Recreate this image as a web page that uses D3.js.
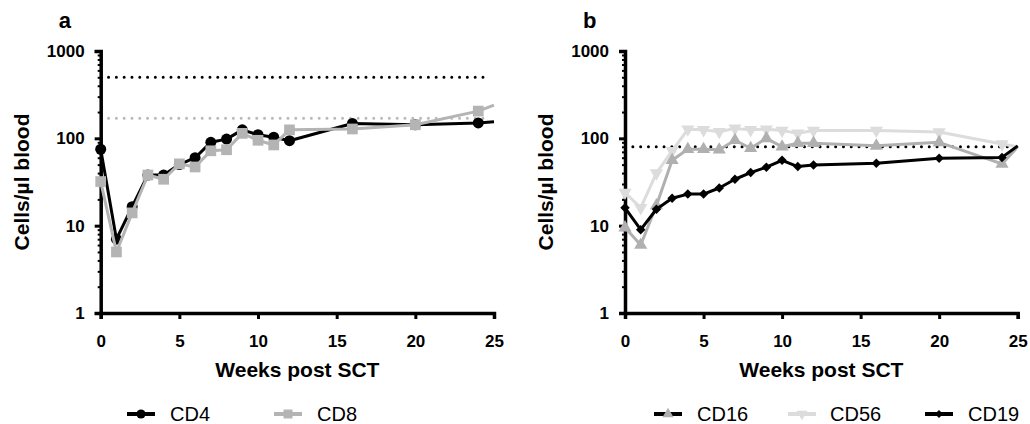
<!DOCTYPE html>
<html><head><meta charset="utf-8">
<script src="https://cdn.jsdelivr.net/npm/d3@7"></script>
<style>body{margin:0;background:#fff} svg{display:block;font-family:Arial,"Liberation Sans",sans-serif}</style>
</head><body><svg width="1030" height="424"></svg>
<script>
// ---- data ----
const weeksA = [0,1,2,3,4,5,6,7,8,9,10,11,12,16,20,24,25];
const cd4 = [75,7,16.5,38,38,50,60,90,98,125,110,103,94,148,143,150,155];
const cd8 = [32,5,14,38,34,51,47,72,74,114,95,84,125,128,143,205,240];
const refA = [500,170];
const weeksB = [0,1,2,3,4,5,6,7,8,9,10,11,12,16,20,24,25];
const cd16 = [9.5,6,17,56,75,75,74,95,77,100,80,88,88,82,90,51,80];
const cd56 = [24,16,40,72,127,125,119,130,125,127,123,114,123,123,118,86,80];
const cd19 = [16,9,15.4,20.6,23,23,27,34,40.5,46.7,56,47.5,49.5,52,59,60.5,82];
const refB = [80];
const xTicks = [0,5,10,15,20,25];
const yTicks = [1,10,100,1000];
const markerMaxWeek = 24;

const svg = d3.select("svg");
const Y0 = 313, Y1 = 51;

function panel(opts){
  const g = svg.append("g");
  const x = d3.scaleLinear().domain([0,25]).range([opts.x0, opts.x1]);
  const y = d3.scaleLog().domain([1,1000]).range([Y0, Y1]);
  const minors = [];
  for (let d=1; d<1000; d*=10) for (let k=2;k<=9;k++) minors.push(d*k);
  const gm = g.append("g").attr("transform",`translate(${opts.x0},0)`)
    .call(d3.axisLeft(y).tickValues(minors).tickSize(3).tickFormat(""));
  gm.select(".domain").remove();
  gm.selectAll("line").attr("stroke","#000").attr("stroke-width",2);
  const gy = g.append("g").attr("transform",`translate(${opts.x0},0)`)
    .call(d3.axisLeft(y).tickValues(yTicks).tickSize(6).tickPadding(10).tickFormat(d3.format("d")));
  gy.select(".domain").attr("stroke","#000").attr("stroke-width",3.5);
  gy.selectAll("line").attr("stroke","#000").attr("stroke-width",3);
  gy.selectAll("text").attr("font-size",17).attr("font-weight","bold").attr("fill","#000");
  const gx = g.append("g").attr("transform",`translate(0,${Y0})`)
    .call(d3.axisBottom(x).tickValues(xTicks).tickSize(6).tickPadding(16));
  gx.select(".domain").attr("stroke","#000").attr("stroke-width",3.5);
  gx.selectAll("line").attr("stroke","#000").attr("stroke-width",3);
  gx.selectAll("text").attr("font-size",17).attr("font-weight","bold").attr("fill","#000");
  g.append("text").attr("x",(opts.x0+opts.x1)/2).attr("y",377).attr("text-anchor","middle")
    .attr("font-size",21).attr("font-weight","bold").text("Weeks post SCT");
  g.append("text").attr("transform",`translate(${opts.x0-72},${(Y0+Y1)/2}) rotate(-90)`)
    .attr("text-anchor","middle").attr("font-size",21).attr("font-weight","bold").text("Cells/µl blood");
  g.append("text").attr("x",opts.x0-42).attr("y",28).attr("font-size",22).attr("font-weight","bold").text(opts.label);
  opts.refs.forEach(r=>{
    g.append("line").attr("x1",x(0.5)).attr("x2",x(24.6)).attr("y1",y(r.v)).attr("y2",y(r.v))
      .attr("stroke",r.color).attr("stroke-width",3).attr("stroke-linecap","round")
      .attr("stroke-dasharray","0 7.8");
  });
  const line = d3.line().x(d=>x(d.w)).y(d=>y(d.v));
  opts.series.forEach(s=>{
    const pts = opts.weeks.map((w,i)=>({w, v:s.values[i]}));
    g.append("path").attr("d",line(pts)).attr("fill","none").attr("stroke",s.color)
      .attr("stroke-width",3).attr("stroke-linejoin","round");
    g.selectAll(null).data(pts.filter(d=>d.w<=markerMaxWeek)).enter().append("path")
      .attr("transform",d=>`translate(${x(d.w)},${y(d.v)})${s.rot||""}`)
      .attr("d",d3.symbol().type(s.symbol).size(s.size)())
      .attr("fill",s.color);
  });
  opts.series.slice().sort((a,b)=>a.legendOrder-b.legendOrder).forEach(s=>{
    const lg = g.append("g").attr("transform",`translate(${s.lx},414)`);
    lg.append("line").attr("x1",-14).attr("x2",14).attr("stroke",s.legendLine||s.color).attr("stroke-width",4);
    lg.append("path").attr("transform",s.rot||"").attr("d",d3.symbol().type(s.symbol).size(s.size*0.7)()).attr("fill",s.color);
    lg.append("text").attr("x",s.lx2-s.lx).attr("y",7).attr("font-size",20).text(s.name);
  });
}

panel({x0:100.7, x1:494, label:"a", weeks:weeksA,
  refs:[{v:refA[0],color:"#000"},{v:refA[1],color:"#b9b9b9"}],
  series:[
    {name:"CD4", values:cd4, color:"#000", symbol:d3.symbolCircle, size:95, lx:141, lx2:170, legendOrder:0},
    {name:"CD8", values:cd8, color:"#b4b4b4", symbol:d3.symbolSquare, size:115, lx:288, lx2:317, legendOrder:1}
  ]});

panel({x0:625, x1:1017.7, label:"b", weeks:weeksB,
  refs:[{v:refB[0],color:"#000"}],
  series:[
    {name:"CD56", values:cd56, color:"#dcdcdc", symbol:d3.symbolTriangle, size:75, rot:" rotate(180)", lx:802, lx2:830, legendOrder:1},
    {name:"CD16", values:cd16, color:"#b0b0b0", legendLine:"#000", symbol:d3.symbolTriangle, size:75, lx:668, lx2:697, legendOrder:0},
    {name:"CD19", values:cd19, color:"#000", symbol:d3.symbolSquare, size:45, rot:" rotate(45)", lx:939, lx2:968, legendOrder:2}
  ]});
</script></body></html>
